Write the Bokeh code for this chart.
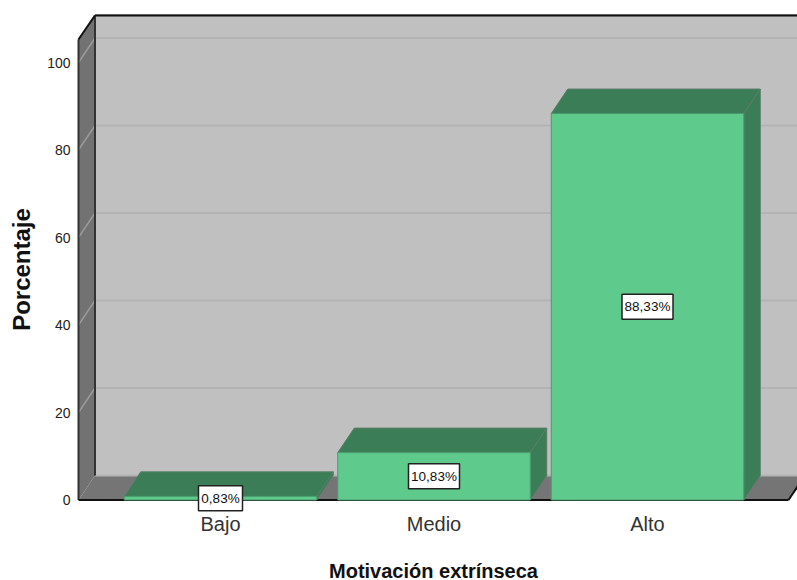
from bokeh.plotting import figure
from bokeh.models import ColumnDataSource, FixedTicker, Range1d, Label
from bokeh.core.properties import value
from bokeh.embed import file_html
from bokeh.resources import INLINE

categories = ["Bajo", "Medio", "Alto"]
values = [0.83, 10.83, 88.33]
labels = ["0,83%", "10,83%", "88,33%"]
y_ticks = [0, 20, 40, 60, 80, 100]
y_title = "Porcentaje"
x_title = "Motivación extrínseca"

W, H = 797, 580
FONT = "Liberation Sans"
px_y = 4.375
px_x = 213.5
x_start = -220 / px_x
x_end = (W - 220) / px_x
y_start = (499.5 - H) / px_y
y_end = 499.5 / px_y

x0 = (78 - 220) / px_x
x1 = x_end
y1 = (499.5 - 15) / px_y
dx = 16.5 / px_x
dy = 24.5 / px_y
bw = 192.5 / px_x
floor_right = (788 - 220) / px_x
top_val = (499.5 - 39) / px_y

p = figure(width=W, height=H, output_backend="svg", toolbar_location=None,
           x_range=Range1d(x_start, x_end), y_range=Range1d(y_start, y_end),
           min_border=0, outline_line_color=None,
           background_fill_color="white", border_fill_color="white")
p.grid.visible = False

# walls
p.quad(left=x0 + dx, right=x1 + dx, bottom=dy, top=y1, fill_color="#c0c0c0", line_color=None)
p.patch([x0, x0 + dx, x0 + dx, x0], [0, dy, y1, top_val], fill_color="#727272", line_color=None)
p.patch([x0, x0 + dx, floor_right + dx, floor_right], [0, dy, dy, 0], fill_color="#757575", line_color=None)

# grid
for t in y_ticks + [top_val]:
    if t > 0:
        p.line([x0, x0 + dx], [t, t + dy], line_color="#9a9a9a", line_width=1.5)
    p.line([x0 + dx, x1], [t + dy, t + dy], line_color="#b3b3b3", line_width=2)

# frame lines
p.line([x0 + dx, x1], [y1, y1], line_color="#111111", line_width=2)
p.line([x0 + dx, x0 + dx], [dy, y1], line_color="#333333", line_width=2)
p.line([x0, x0], [0, top_val], line_color="#333333", line_width=2)
p.line([x0, x0 + dx], [top_val, y1], line_color="#111111", line_width=2)
p.line([x0, floor_right], [0, 0], line_color="#111111", line_width=2)
p.line([floor_right, floor_right + dx], [0, dy], line_color="#111111", line_width=2)

# bars
for i, v in enumerate(values):
    l, r = i - bw / 2, i + bw / 2
    p.patch([l, l + dx, r + dx, r], [v, v + dy, v + dy, v], fill_color="#3a7d56", line_color="#5c7d68")
    p.patch([r, r + dx, r + dx, r], [0, dy, v + dy, v], fill_color="#3a7d56", line_color="#5c7d68")
    p.quad(left=l, right=r, bottom=0, top=v, fill_color="#5ecb8c", line_color="#4a9a6c")

src = ColumnDataSource(dict(x=[0, 1, 2], y=[v / 2 for v in values], t=labels, w=[44, 51, 51]))
p.rect(x="x", y="y", width="w", height=25, width_units="screen", height_units="screen", source=src,
       fill_color="white", line_color="#222222", line_width=1.5)
p.text(x="x", y="y", text="t", source=src, text_align="center", text_baseline="middle",
       text_font=value(FONT), text_font_size="13.5px", text_color="#111111")

# axes sit inside the full-page frame
p.yaxis.fixed_location = (76 - 220) / px_x
p.yaxis.ticker = FixedTicker(ticks=y_ticks)
p.yaxis.axis_line_color = None
p.yaxis.major_tick_line_color = None
p.yaxis.minor_tick_line_color = None
p.yaxis.major_tick_out = 0
p.yaxis.major_tick_in = 0
p.yaxis.major_label_text_font = FONT
p.yaxis.major_label_text_font_size = "14px"
p.yaxis.major_label_text_color = "#222222"
p.yaxis.major_label_standoff = 6

p.xaxis.fixed_location = (499.5 - 512) / px_y
p.xaxis.ticker = FixedTicker(ticks=[0, 1, 2])
p.xaxis.major_label_overrides = {i: c for i, c in enumerate(categories)}
p.xaxis.axis_line_color = None
p.xaxis.major_tick_line_color = None
p.xaxis.minor_tick_line_color = None
p.xaxis.major_tick_out = 0
p.xaxis.major_tick_in = 0
p.xaxis.major_label_text_font = FONT
p.xaxis.major_label_text_font_size = "20px"
p.xaxis.major_label_text_color = "#333333"
p.xaxis.major_label_standoff = 0

# axis titles, in screen offsets from the frame's bottom-left corner
p.add_layout(Label(x=21, y=H - 269, x_units="screen", y_units="screen", text=y_title,
                   angle=90, angle_units="deg", text_align="center", text_baseline="middle",
                   text_font=FONT, text_font_style="bold", text_font_size="24px", text_color="#111111"))
p.add_layout(Label(x=433, y=H - 570, x_units="screen", y_units="screen", text=x_title,
                   text_align="center", text_baseline="middle",
                   text_font=FONT, text_font_style="bold", text_font_size="20px", text_color="#111111"))

open("out.html", "w").write(file_html(p, INLINE))
